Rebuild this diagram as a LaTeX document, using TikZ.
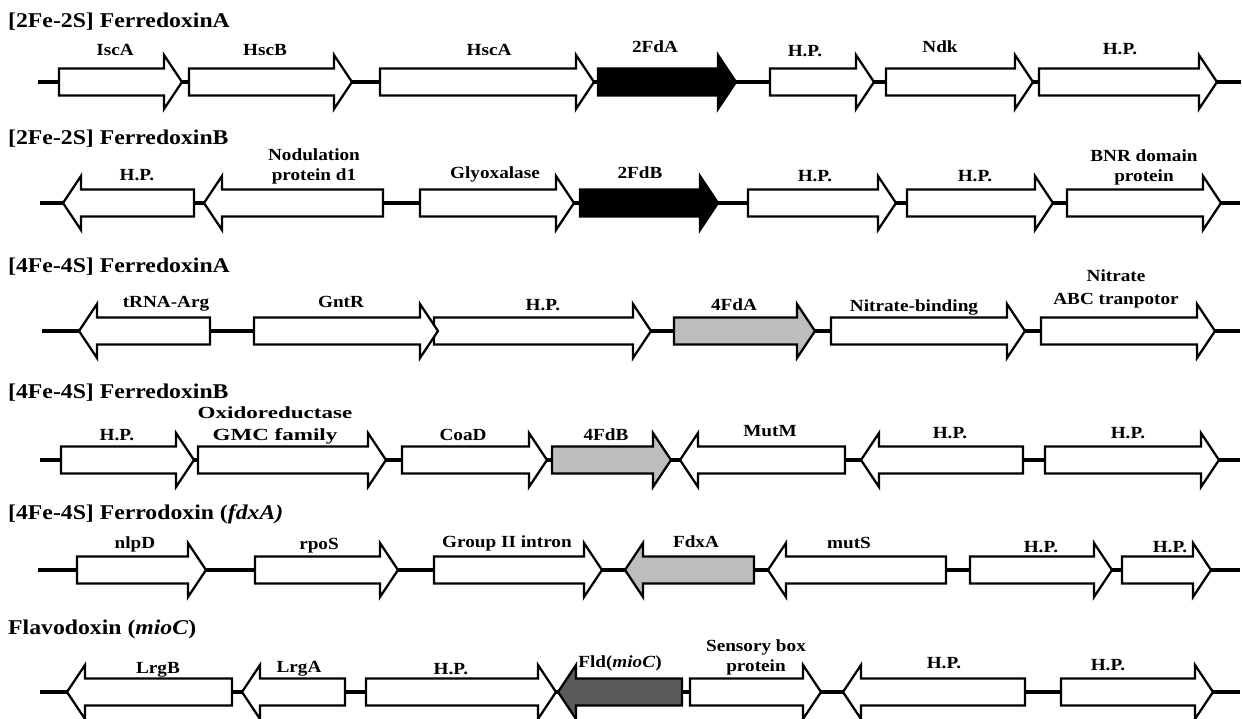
\documentclass[tikz,border=0pt]{standalone}
\usepackage{fontspec}
\setmainfont{Liberation Serif}[FakeStretch=1.13]
\definecolor{lgray}{HTML}{BDBDBD}
\definecolor{dgray}{HTML}{5A5A5A}
\tikzset{
  backbone/.style={line width=3.2pt, black},
  genebox/.style={line width=2.3pt, draw=black, line join=miter},
  lbl/.style={anchor=base, inner sep=0pt, align=center, font=\fontsize{17}{20}\selectfont\bfseries},
  ttl/.style={anchor=base west, inner sep=0pt, font=\fontsize{21}{24}\selectfont\bfseries},
}
% right-pointing gene: start, tip, y, fill
\newcommand\geneR[4]{\draw[genebox, fill=#4] (#1,#3-13.5) -- (#2-18,#3-13.5) -- (#2-18,#3-27) -- (#2,#3) -- (#2-18,#3+27) -- (#2-18,#3+13.5) -- (#1,#3+13.5) -- cycle;}
% left-pointing gene: tip, end, y, fill
\newcommand\geneL[4]{\draw[genebox, fill=#4] (#2,#3-13.5) -- (#1+18,#3-13.5) -- (#1+18,#3-27) -- (#1,#3) -- (#1+18,#3+27) -- (#1+18,#3+13.5) -- (#2,#3+13.5) -- cycle;}
\begin{document}
\begin{tikzpicture}[x=1pt,y=-1pt]
\useasboundingbox (0,0) rectangle (1242,718);
\fill[white] (0,0) rectangle (1242,718);

% ---------- Row 1 ----------
\node[ttl] (t1) at (8,27) {[2Fe-2S] FerredoxinA};
\coordinate (b1s) at (38,82); \coordinate (b1e) at (1241,82);
\draw[backbone] (b1s) -- (b1e);
\geneR{59}{182}{82}{white}
\geneR{189}{352}{82}{white}
\geneR{380}{594}{82}{white}
\geneR{598}{736}{82}{black}
\geneR{770}{874}{82}{white}
\geneR{886}{1033}{82}{white}
\geneR{1039}{1217}{82}{white}
\node[lbl] (r1a) at (115,55) {IscA};
\node[lbl] (r1b) at (265,55) {HscB};
\node[lbl] (r1c) at (489,55) {HscA};
\node[lbl] (r1d) at (655,52) {2FdA};
\node[lbl] (r1e) at (805,56) {H.P.};
\node[lbl] (r1f) at (940,52) {Ndk};
\node[lbl] (r1g) at (1120,54) {H.P.};

% ---------- Row 2 ----------
\node[ttl] (t2) at (8,144) {[2Fe-2S] FerredoxinB};
\coordinate (b2s) at (40,203); \coordinate (b2e) at (1240,203);
\draw[backbone] (b2s) -- (b2e);
\geneL{63}{194}{203}{white}
\geneL{204}{383}{203}{white}
\geneR{420}{574}{203}{white}
\geneR{580}{718}{203}{black}
\geneR{748}{896}{203}{white}
\geneR{907}{1053}{203}{white}
\geneR{1067}{1221}{203}{white}
\node[lbl] (r2a) at (137,180) {H.P.};
\node[lbl] (r2b) at (314,180) {Nodulation\\protein d1};
\node[lbl] (r2c) at (495,178) {Glyoxalase};
\node[lbl] (r2d) at (640,178) {2FdB};
\node[lbl] (r2e) at (815,181) {H.P.};
\node[lbl] (r2f) at (975,181) {H.P.};
\node[lbl] (r2g) at (1144,181) {BNR domain\\protein};

% ---------- Row 3 ----------
\node[ttl] (t3) at (8,272) {[4Fe-4S] FerredoxinA};
\coordinate (b3s) at (42,331); \coordinate (b3e) at (1240,331);
\draw[backbone] (b3s) -- (b3e);
\geneL{79}{210}{331}{white}
\geneR{434}{651}{331}{white}
\geneR{254}{438}{331}{white}
\geneR{674}{815}{331}{lgray}
\geneR{831}{1025}{331}{white}
\geneR{1041}{1215}{331}{white}
\node[lbl] (r3a) at (166,307) {tRNA-Arg};
\node[lbl] (r3b) at (341,307) {GntR};
\node[lbl] (r3c) at (543,310) {H.P.};
\node[lbl] (r3d) at (734,310) {4FdA};
\node[lbl] (r3e) at (914,311) {Nitrate-binding};
\node[lbl, font=\fontsize{17}{23}\selectfont\bfseries] (r3f) at (1116,304) {Nitrate\\ABC tranpotor};

% ---------- Row 4 ----------
\node[ttl] (t4) at (8,398) {[4Fe-4S] FerredoxinB};
\coordinate (b4s) at (40,460); \coordinate (b4e) at (1240,460);
\draw[backbone] (b4s) -- (b4e);
\geneR{61}{194}{460}{white}
\geneR{198}{386}{460}{white}
\geneR{402}{547}{460}{white}
\geneR{552}{671}{460}{lgray}
\geneL{680}{845}{460}{white}
\geneL{861}{1023}{460}{white}
\geneR{1045}{1219}{460}{white}
\node[lbl] (r4a) at (117,440) {H.P.};
\node[lbl, font=\fontsize{17}{22}\selectfont\bfseries] (r4b) at (275,440) {\scalebox{1.2}[1]{Oxidoreductase}\\\scalebox{1.2}[1]{GMC family}};
\node[lbl] (r4c) at (463,440) {CoaD};
\node[lbl] (r4d) at (606,440) {4FdB};
\node[lbl] (r4e) at (770,436) {MutM};
\node[lbl] (r4f) at (950,438) {H.P.};
\node[lbl] (r4g) at (1128,438) {H.P.};

% ---------- Row 5 ----------
\node[ttl] (t5) at (8,519) {[4Fe-4S] Ferrodoxin (\textit{fdxA)}};
\coordinate (b5s) at (38,570); \coordinate (b5e) at (1240,570);
\draw[backbone] (b5s) -- (b5e);
\geneR{77}{206}{570}{white}
\geneR{255}{398}{570}{white}
\geneR{434}{602}{570}{white}
\geneL{625}{754}{570}{lgray}
\geneL{768}{946}{570}{white}
\geneR{970}{1112}{570}{white}
\geneR{1122}{1211}{570}{white}
\node[lbl] (r5a) at (135,548) {nlpD};
\node[lbl] (r5b) at (319,549) {rpoS};
\node[lbl] (r5c) at (507,547) {Group II intron};
\node[lbl] (r5d) at (696,547) {FdxA};
\node[lbl] (r5e) at (849,548) {mutS};
\node[lbl] (r5f) at (1041,552) {H.P.};
\node[lbl] (r5g) at (1170,552) {H.P.};

% ---------- Row 6 ----------
\node[ttl] (t6) at (8,634) {Flavodoxin (\textit{mioC})};
\coordinate (b6s) at (40,692); \coordinate (b6e) at (1240,692);
\draw[backbone] (b6s) -- (b6e);
\geneL{67}{232}{692}{white}
\geneL{242}{345}{692}{white}
\geneR{366}{556}{692}{white}
\geneL{558}{682}{692}{dgray}
\geneR{690}{821}{692}{white}
\geneL{843}{1025}{692}{white}
\geneR{1061}{1213}{692}{white}
\node[lbl] (r6a) at (158,673) {LrgB};
\node[lbl] (r6b) at (299,672) {LrgA};
\node[lbl] (r6c) at (451,674) {H.P.};
\node[lbl] (r6d) at (620,667) {Fld(\textit{mioC})};
\node[lbl] (r6e) at (756,671) {Sensory box\\protein};
\node[lbl] (r6f) at (944,668) {H.P.};
\node[lbl] (r6g) at (1108,670) {H.P.};
\end{tikzpicture}
\end{document}
